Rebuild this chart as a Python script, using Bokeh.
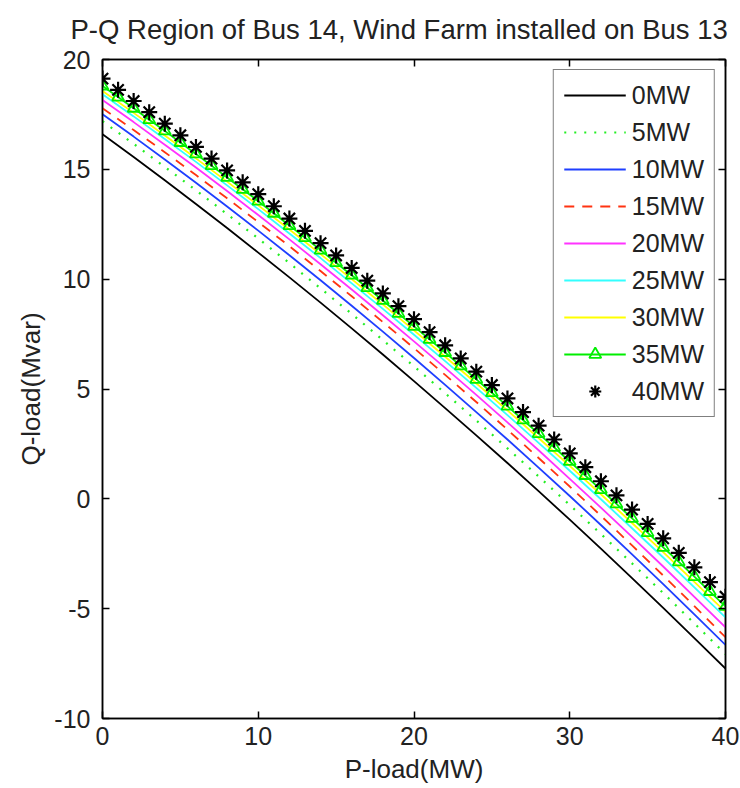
from bokeh.plotting import figure
from bokeh.models import Range1d, LinearAxis, FixedTicker
from bokeh.embed import file_html
from bokeh.resources import INLINE

# Active load at bus 14 (MW): every 2 MW for the plain curves, every 1 MW for the marked ones
p_line = list(range(0, 41, 2))
p_mark = list(range(0, 41))

# Reactive load limit (Mvar) for each wind-farm output
q_0mw = [16.60, 15.56, 14.50, 13.42, 12.33, 11.21, 10.08, 8.93, 7.76, 6.57, 5.36,
         4.13, 2.89, 1.63, 0.35, -0.95, -2.27, -3.61, -4.96, -6.34, -7.73]
q_5mw = [17.19, 16.16, 15.11, 14.05, 12.96, 11.85, 10.73, 9.58, 8.42, 7.23, 6.03,
         4.81, 3.57, 2.30, 1.02, -0.28, -1.60, -2.94, -4.29, -5.67, -7.07]
q_10mw = [17.51, 16.49, 15.45, 14.39, 13.31, 12.21, 11.09, 9.95, 8.79, 7.61, 6.41,
          5.19, 3.95, 2.70, 1.42, 0.13, -1.19, -2.53, -3.88, -5.26, -6.65]
q_15mw = [17.78, 16.79, 15.78, 14.74, 13.68, 12.60, 11.50, 10.37, 9.22, 8.05, 6.86,
          5.64, 4.41, 3.15, 1.86, 0.56, -0.77, -2.12, -3.49, -4.88, -6.30]
q_20mw = [18.16, 17.15, 16.12, 15.08, 14.01, 12.92, 11.81, 10.68, 9.53, 8.36, 7.17,
          5.96, 4.73, 3.48, 2.21, 0.91, -0.40, -1.73, -3.08, -4.46, -5.85]
q_25mw = [18.42, 17.41, 16.38, 15.34, 14.27, 13.19, 12.08, 10.96, 9.81, 8.65, 7.47,
          6.27, 5.05, 3.81, 2.55, 1.28, -0.02, -1.34, -2.67, -4.03, -5.40]
q_30mw = [18.57, 17.57, 16.54, 15.50, 14.44, 13.36, 12.26, 11.14, 10.00, 8.85, 7.67,
          6.47, 5.26, 4.03, 2.77, 1.50, 0.21, -1.10, -2.43, -3.78, -5.15]
q_35mw = [18.79, 18.29, 17.78, 17.26, 16.75, 16.22, 15.70, 15.17, 14.63, 14.09, 13.55,
          13.00, 12.44, 11.89, 11.32, 10.75, 10.18, 9.61, 9.03, 8.44, 7.85,
          7.26, 6.66, 6.05, 5.44, 4.83, 4.22, 3.59, 2.97, 2.34, 1.70,
          1.06, 0.42, -0.23, -0.89, -1.54, -2.21, -2.87, -3.54, -4.22, -4.90]
q_40mw = [19.13, 18.62, 18.11, 17.60, 17.08, 16.55, 16.02, 15.49, 14.95, 14.41, 13.87,
          13.32, 12.76, 12.20, 11.64, 11.08, 10.51, 9.93, 9.35, 8.77, 8.18,
          7.59, 6.99, 6.39, 5.79, 5.18, 4.57, 3.95, 3.33, 2.70, 2.07,
          1.44, 0.80, 0.16, -0.49, -1.14, -1.80, -2.46, -3.12, -3.79, -4.46]

labels = ["0MW", "5MW", "10MW", "15MW", "20MW", "25MW", "30MW", "35MW", "40MW"]
x_ticks = [0, 10, 20, 30, 40]
y_ticks = [-10, -5, 0, 5, 10, 15, 20]

FONT = "Liberation Sans"
TEXT = "#222222"

p = figure(width=740, height=788, output_backend="svg", toolbar_location=None,
           x_range=Range1d(0, 40), y_range=Range1d(-10, 20),
           min_border_left=102, min_border_right=15,
           min_border_top=55, min_border_bottom=70,
           title="P-Q Region of Bus 14, Wind Farm installed on Bus 13")

p.title.text_font = FONT
p.title.text_font_size = "27.5px"
p.title.text_font_style = "normal"
p.title.align = "left"
p.title.offset = -32
p.title.standoff = 26
p.title.vertical_align = "top"
p.title.text_color = TEXT

p.xgrid.visible = False
p.ygrid.visible = False
p.outline_line_color = "black"
p.outline_line_width = 1.5
p.background_fill_color = "white"
p.border_fill_color = "white"


def style_axis(ax, ticks, show_labels):
    ax.ticker = FixedTicker(ticks=ticks)
    ax.major_tick_in = 7
    ax.major_tick_out = 0
    ax.minor_tick_line_color = None
    ax.axis_line_color = "black"
    ax.axis_line_width = 1.5
    ax.major_tick_line_color = "black"
    ax.major_tick_line_width = 1.5
    ax.major_label_text_font = FONT
    ax.major_label_text_color = TEXT
    # plain hyphen for negative numbers
    ax.major_label_overrides = {t: (str(t) if show_labels else "") for t in ticks}
    if show_labels:
        ax.major_label_text_font_size = "25px"
    else:
        ax.major_label_text_font_size = "1px"
        ax.major_label_standoff = 0


style_axis(p.xaxis[0], x_ticks, True)
style_axis(p.yaxis[0], y_ticks, True)
p.xaxis.major_label_standoff = 8
p.yaxis.major_label_standoff = 12

p.xaxis.axis_label = "P-load(MW)"
p.yaxis.axis_label = "Q-load(Mvar)"
for ax in (p.xaxis[0], p.yaxis[0]):
    ax.axis_label_text_font = FONT
    ax.axis_label_text_font_size = "26px"
    ax.axis_label_text_font_style = "normal"
    ax.axis_label_text_color = TEXT
p.xaxis.axis_label_standoff = 6
p.yaxis.axis_label_standoff = 5

top_ax = LinearAxis()
right_ax = LinearAxis()
style_axis(top_ax, x_ticks, False)
style_axis(right_ax, y_ticks, False)
p.add_layout(top_ax, "above")
p.add_layout(right_ax, "right")

lw = 1.8
p.line(p_line, q_0mw, line_color="black", line_width=lw, legend_label=labels[0])
p.line(p_line, q_5mw, line_color="#22ee22", line_width=2.2, line_dash="2 8",
       legend_label=labels[1])
p.line(p_line, q_10mw, line_color="#1f3fff", line_width=lw, legend_label=labels[2])
p.line(p_line, q_15mw, line_color="#ff3311", line_width=lw, line_dash="10 8",
       legend_label=labels[3])
p.line(p_line, q_20mw, line_color="#ff33ff", line_width=lw, legend_label=labels[4])
p.line(p_line, q_25mw, line_color="#33ffff", line_width=lw, legend_label=labels[5])
p.line(p_line, q_30mw, line_color="#ffff00", line_width=lw, legend_label=labels[6])
p.line(p_mark, q_35mw, line_color="#00ee00", line_width=lw, legend_label=labels[7])
p.scatter(p_mark, q_35mw, marker="triangle", size=12, line_color="#00ee00",
          line_width=1.8, fill_color=None, legend_label=labels[7])
p.scatter(p_mark, q_40mw, marker="asterisk", size=16, line_color="black",
          line_width=2.2, legend_label=labels[8])

leg = p.legend[0]
leg.location = "top_right"
leg.margin = 10
leg.padding = 10
leg.spacing = 7
leg.label_standoff = 6
leg.glyph_width = 62
leg.glyph_height = 30
leg.label_height = 30
leg.label_text_font = FONT
leg.label_text_font_size = "25px"
leg.label_text_color = TEXT
leg.border_line_color = "black"
leg.border_line_width = 1.5
leg.background_fill_color = "white"
leg.background_fill_alpha = 1.0

open("out.html", "w").write(file_html(p, INLINE))
